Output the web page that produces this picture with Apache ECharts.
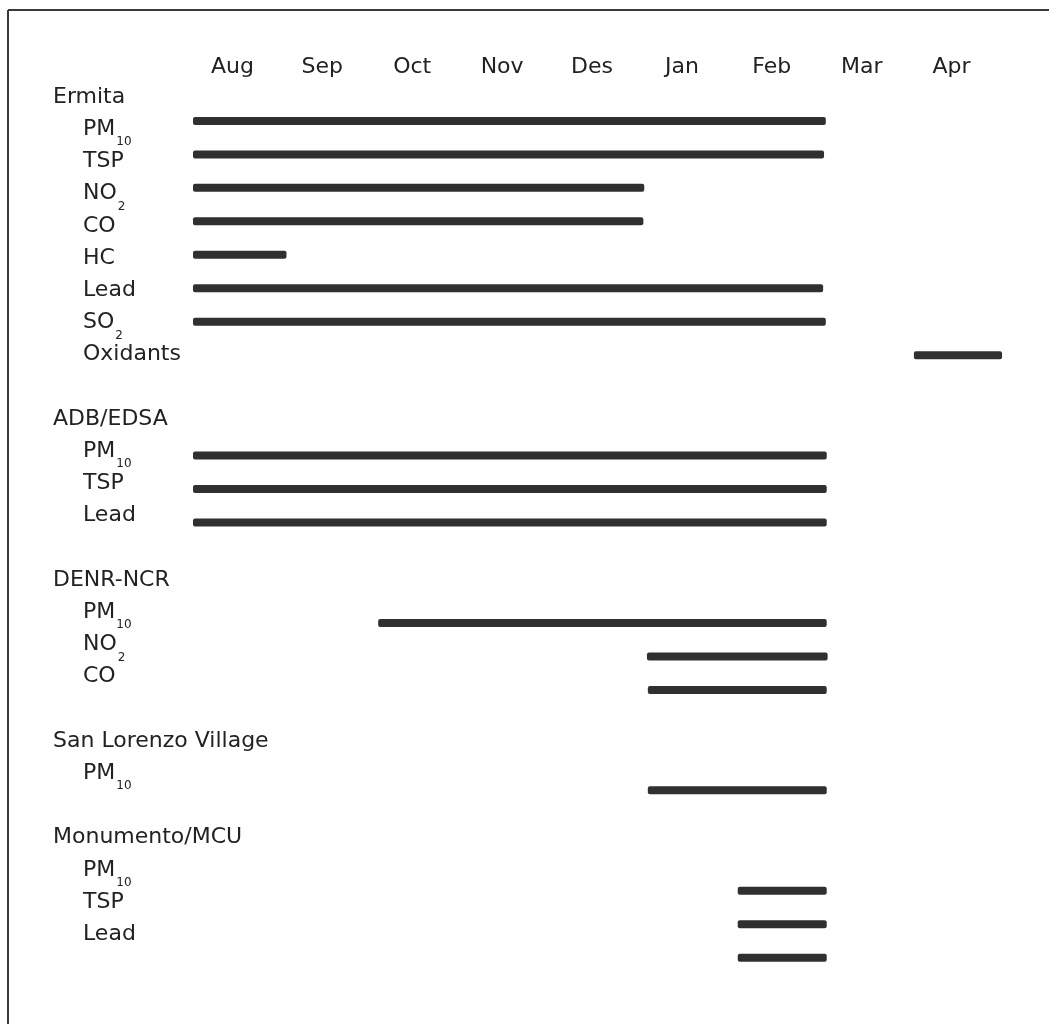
<!DOCTYPE html>
<html>
<head>
<meta charset="utf-8">
<script src="https://cdn.jsdelivr.net/npm/echarts@6/dist/echarts.min.js"></script>
<style>
html,body{margin:0;padding:0;background:#fff;}
#chart{width:1049px;height:1024px;}
</style>
</head>
<body>
<div id="chart"></div>
<script>
// Month tick labels (value axis: 0 = start of Aug, 9 = start of May)
const months = ['Aug', 'Sep', 'Oct', 'Nov', 'Des', 'Jan', 'Feb', 'Mar', 'Apr'];

// Stations and their measured pollutants, with monitoring start/end (in months from 1 Aug)
const stations = ['Ermita', 'ADB/EDSA', 'DENR-NCR', 'San Lorenzo Village', 'Monumento/MCU'];

const ermitaItems = ['PM10', 'TSP', 'NO2', 'CO', 'HC', 'Lead', 'SO2', 'Oxidants'];
const ermitaStart = [0, 0, 0, 0, 0, 0, 0, 8.02];
const ermitaEnd   = [7.04, 7.02, 5.02, 5.01, 1.04, 7.01, 7.04, 9.0];

const adbItems = ['PM10', 'TSP', 'Lead'];
const adbStart = [0, 0, 0];
const adbEnd   = [7.05, 7.05, 7.05];

const denrItems = ['PM10', 'NO2', 'CO'];
const denrStart = [2.06, 5.05, 5.06];
const denrEnd   = [7.05, 7.06, 7.05];

const slvItems = ['PM10'];
const slvStart = [5.06];
const slvEnd   = [7.05];

const monItems = ['PM10', 'TSP', 'Lead'];
const monStart = [6.06, 6.06, 6.06];
const monEnd   = [7.05, 7.05, 7.05];

const groupItems = [ermitaItems, adbItems, denrItems, slvItems, monItems];
const groupStart = [ermitaStart, adbStart, denrStart, slvStart, monStart];
const groupEnd   = [ermitaEnd, adbEnd, denrEnd, slvEnd, monEnd];

// Build row categories (header, items, blank spacer) and bar data
const rowLabels = [];
const rowKind = [];
const bars = [];
stations.forEach(function (st, g) {
  rowLabels.push(st); rowKind.push('h');
  groupItems[g].forEach(function (it, k) {
    const idx = rowLabels.length;
    rowLabels.push(it); rowKind.push('i');
    bars.push([idx, groupStart[g][k], groupEnd[g][k]]);
  });
  if (g < stations.length - 1) { rowLabels.push(''); rowKind.push('b'); }
});

const FONT = 'DejaVu Sans';
const TXT = '#222';
const FS = 22;

function fmtLabel(value, index) {
  const kind = rowKind[index];
  if (kind === 'h') return '{h|' + value + '}';
  if (kind === 'b') return '';
  const m = /^(PM|NO|SO)(\d+)$/.exec(value);
  if (m) return '{i|' + m[1] + '}{s|' + m[2] + '}';
  return '{i|' + value + '}';
}

const chart = echarts.init(document.getElementById('chart'), null, {renderer: 'canvas'});
chart.setOption({
  backgroundColor: '#fff',
  animation: false,
  graphic: [
    {type: 'line', shape: {x1: 8, y1: 10, x2: 1049, y2: 10}, style: {stroke: '#3a3a3a', lineWidth: 2}},
    {type: 'line', shape: {x1: 8, y1: 10, x2: 8, y2: 1024}, style: {stroke: '#3a3a3a', lineWidth: 2}}
  ],
  grid: [
    {left: 193, right: 47, top: 80.9, bottom: 73.7},   // labels grid
    {left: 193, right: 47, top: 70.7, bottom: 49.6}    // bars grid
  ],
  xAxis: [
    {
      gridIndex: 0, type: 'category', position: 'top', data: months, boundaryGap: true,
      axisLine: {show: false}, axisTick: {show: false}, splitLine: {show: false},
      axisLabel: {fontFamily: FONT, fontSize: FS, color: TXT, margin: 3, padding: [0, 11, 0, 0], interval: 0}
    },
    {
      gridIndex: 1, type: 'value', min: 0, max: 9, show: false
    }
  ],
  yAxis: [
    {
      gridIndex: 0, type: 'category', data: rowLabels, inverse: true, boundaryGap: true,
      axisLine: {show: false}, axisTick: {show: false}, splitLine: {show: false},
      axisLabel: {
        interval: 0, align: 'left', margin: 140, formatter: fmtLabel,
        rich: {
          h: {fontFamily: FONT, fontSize: FS, color: TXT, lineHeight: 26, verticalAlign: 'middle'},
          i: {fontFamily: FONT, fontSize: FS, color: TXT, lineHeight: 26, verticalAlign: 'middle', padding: [0, 0, 0, 30]},
          s: {fontFamily: FONT, fontSize: 12, color: TXT, verticalAlign: 'middle', padding: [26, 0, 0, 1]}
        }
      }
    },
    {
      gridIndex: 1, type: 'category', data: rowLabels, inverse: true, boundaryGap: true, show: false
    }
  ],
  series: [{
    type: 'custom',
    xAxisIndex: 1, yAxisIndex: 1,
    data: bars,
    encode: {x: [1, 2], y: 0},
    renderItem: function (params, api) {
      const p0 = api.coord([api.value(1), api.value(0)]);
      const p1 = api.coord([api.value(2), api.value(0)]);
      const h = 8;
      return {
        type: 'rect',
        shape: {x: p0[0], y: p0[1] - h / 2, width: p1[0] - p0[0], height: h, r: 2},
        style: {fill: '#303030'}
      };
    }
  }]
});
</script>
</body>
</html>
